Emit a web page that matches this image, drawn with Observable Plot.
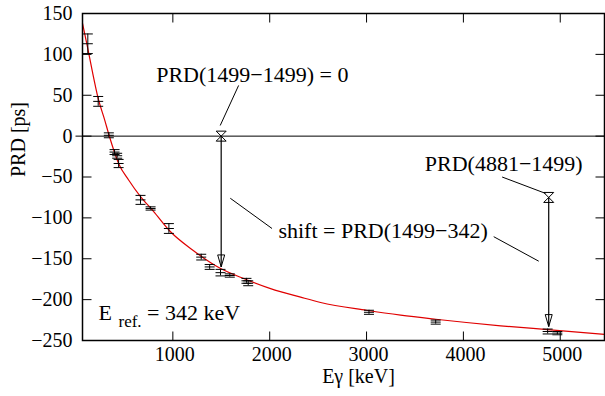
<!DOCTYPE html>
<html><head><meta charset="utf-8">
<script src="https://cdn.jsdelivr.net/npm/d3@7"></script>
<script src="https://cdn.jsdelivr.net/npm/@observablehq/plot@0.6"></script>
<style>
body{margin:0;background:#fff}
svg{display:block}
svg, svg text {font-family: "Liberation Serif", "Times New Roman", serif !important;}
</style>
</head><body><div id="chart"></div>
<script>
// measured points
const energies = [122, 229, 339, 398, 425, 440, 666, 770, 959, 1293, 1380, 1492, 1588, 1760, 1778, 3025, 3714, 4870, 4970];
const prdValues = [113, 42.5, 1, -19.5, -24, -33.5, -78, -88.5, -113, -148, -160, -167, -170.5, -177, -180, -215.5, -227.5, -239, -241];
const prdErrors = [12, 6, 3, 3, 3, 5, 5.5, 2, 6, 3.5, 3, 4, 2, 3, 3, 2.5, 2.5, 3, 2];
// fitted curve
const fitEnergies = [67, 122, 167, 229, 298, 339, 442, 545, 666, 800, 976, 1200, 1493, 1750, 2009, 2319, 2526, 3000, 3352, 3714, 4385, 4900, 5457];
const fitPRD = [138, 107, 80, 46, 19, 2, -34, -54, -74, -92, -117, -139, -162, -175, -186.5, -197, -203.5, -213, -219, -224, -232, -237, -242.5];
// ticks
const xTicks = [1000, 2000, 3000, 4000, 5000];
const yTicks = [-250, -200, -150, -100, -50, 0, 50, 100, 150];
// annotations
const arrowEnergies = [1499, 4881];
const arrowStarts = [0, -75];
const arrowEnds = [-160, -233];
const noteTexts = ["PRD(1499\u22121499) = 0", "shift = PRD(1499\u2212342)", "PRD(4881\u22121499)"];
const noteE = [1820, 3171, 4416];
const notePRD = [74.8, -116, -34];
const leaderE1 = [1679, 1593, 4313, 4400];
const leaderP1 = [62, -76, -123, -50];
const leaderE2 = [1489, 2024, 4778, 4847];
const leaderP2 = [13, -113, -153, -70];

const points = energies.map((e, i) => ({e, p: prdValues[i], err: prdErrors[i]}));
const fit = fitEnergies.map((e, i) => ({e, p: fitPRD[i]}));
const arrows = arrowEnergies.map((e, i) => ({e, p1: arrowStarts[i], p2: arrowEnds[i]}));
const notes = noteTexts.map((t, i) => ({t, e: noteE[i], p: notePRD[i]}));
const leaders = leaderE1.map((e, i) => ({e1: e, p1: leaderP1[i], e2: leaderE2[i], p2: leaderP2[i]}));

const hBar = {draw(c) { c.moveTo(-5, 0); c.lineTo(5, 0); }};
const tickUp = {draw(c) { c.moveTo(0, 0); c.lineTo(0, -9); }};
const tickDown = {draw(c) { c.moveTo(0, 0); c.lineTo(0, 9); }};
const tickRight = {draw(c) { c.moveTo(0, 0); c.lineTo(9, 0); }};
const tickLeft = {draw(c) { c.moveTo(0, 0); c.lineTo(-9, 0); }};
const hourglass = {draw(c) { c.moveTo(-5, -5); c.lineTo(5, -5); c.lineTo(-5, 5); c.lineTo(5, 5); c.closePath(); }};
const headDown = {draw(c) { c.moveTo(0, 0); c.lineTo(-3.5, -12); c.lineTo(3.5, -12); c.closePath(); }};

const fmt = d => d < 0 ? "\u2212" + Math.abs(d) : String(d);
const ink = "#000";

const chart = Plot.plot({
  width: 605,
  height: 396,
  marginLeft: 82,
  marginRight: 1,
  marginTop: 13,
  marginBottom: 56,
  style: {fontFamily: "'Liberation Serif', serif", fontSize: "20px", background: "#fff", color: ink},
  x: {domain: [67, 5457]},
  y: {domain: [-250, 150]},
  marks: [
    Plot.ruleY([0], {x1: 0, x2: 5457, stroke: ink, strokeWidth: 1}),
    Plot.line(fit, {x: "e", y: "p", stroke: "#e00000", strokeWidth: 1.2, curve: "monotone-x"}),
    Plot.ruleX(points, {x: "e", y1: d => d.p - d.err, y2: d => d.p + d.err, stroke: ink, strokeWidth: 1}),
    Plot.dot(points, {x: "e", y: d => d.p - d.err, symbol: hBar, stroke: ink, fill: "none", strokeWidth: 1}),
    Plot.dot(points, {x: "e", y: d => d.p + d.err, symbol: hBar, stroke: ink, fill: "none", strokeWidth: 1}),
    Plot.dot(points, {x: "e", y: "p", symbol: hBar, stroke: ink, fill: "none", strokeWidth: 1}),
    Plot.link(arrows, {x1: "e", x2: "e", y1: "p1", y2: "p2", stroke: ink, strokeWidth: 1.2}),
    Plot.dot(arrows, {x: "e", y: "p1", symbol: hourglass, stroke: ink, fill: "none", strokeWidth: 1}),
    Plot.dot(arrows, {x: "e", y: "p2", symbol: headDown, stroke: ink, fill: "none", strokeWidth: 1}),
    Plot.link(leaders, {x1: "e1", y1: "p1", x2: "e2", y2: "p2", stroke: ink, strokeWidth: 1}),
    Plot.text(notes, {x: "e", y: "p", text: "t", fontSize: 22, fill: ink}),
    Plot.text(["E"], {frameAnchor: "bottom-left", dx: 16, dy: -21, textAnchor: "start", fontSize: 22, fill: ink}),
    Plot.text(["ref."], {frameAnchor: "bottom-left", dx: 36, dy: -14, textAnchor: "start", fontSize: 17, fill: ink}),
    Plot.text(["= 342 keV"], {frameAnchor: "bottom-left", dx: 64.5, dy: -21, textAnchor: "start", fontSize: 22, fill: ink}),
    Plot.dot(xTicks, {x: d => d, frameAnchor: "bottom", symbol: tickUp, stroke: ink, fill: "none", strokeWidth: 1}),
    Plot.dot(xTicks, {x: d => d, frameAnchor: "top", symbol: tickDown, stroke: ink, fill: "none", strokeWidth: 1}),
    Plot.dot(yTicks, {y: d => d, frameAnchor: "left", symbol: tickRight, stroke: ink, fill: "none", strokeWidth: 1}),
    Plot.dot(yTicks, {y: d => d, frameAnchor: "right", symbol: tickLeft, stroke: ink, fill: "none", strokeWidth: 1}),
    Plot.axisX(xTicks, {anchor: "bottom", tickSize: 0, tickPadding: 6, tickFormat: fmt, label: null, dx: 2, fontSize: 20, fill: ink}),
    Plot.axisY(yTicks, {anchor: "left", tickSize: 0, tickPadding: 10, tickFormat: fmt, label: null, fontSize: 20, fill: ink}),
    Plot.text(["PRD [ps]"], {frameAnchor: "left", rotate: -90, dx: -64, fontSize: 20, fill: ink}),
    Plot.text(["E\u03b3 [keV]"], {frameAnchor: "bottom", dx: 15, dy: 42, fontSize: 20, fill: ink}),
    Plot.frame({stroke: ink, strokeWidth: 1.5})
  ]
});
document.getElementById("chart").appendChild(chart);
</script>
</body></html>
